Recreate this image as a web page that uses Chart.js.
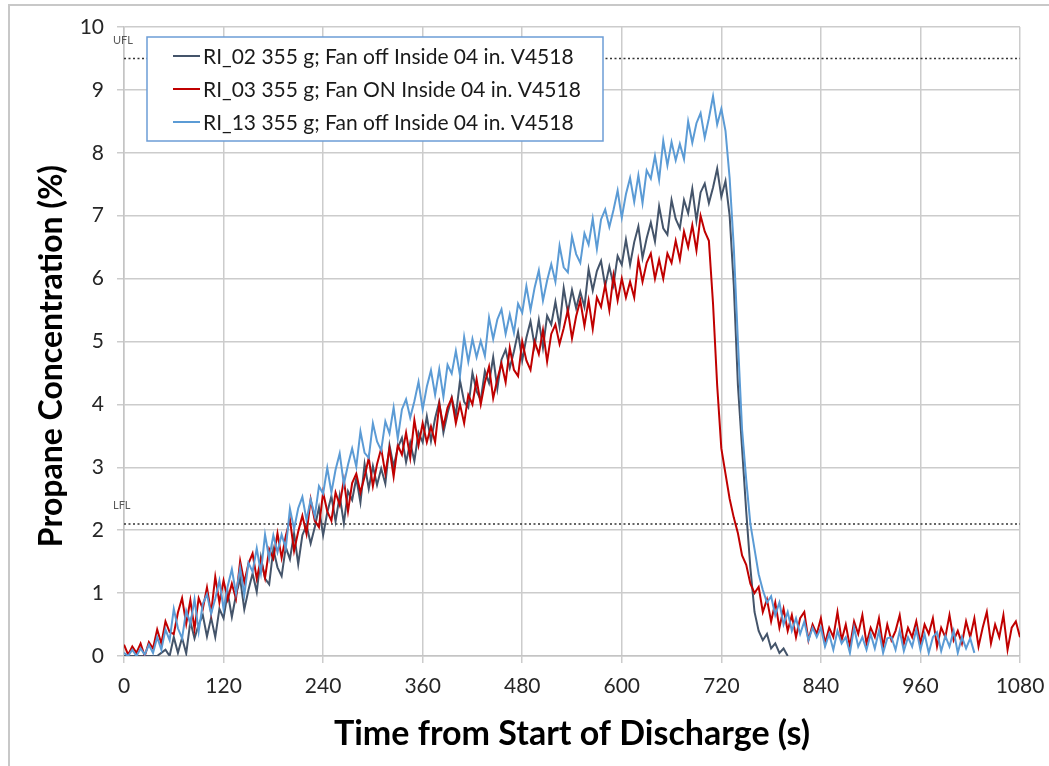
<!DOCTYPE html>
<html><head><meta charset="utf-8">
<script src="https://cdn.jsdelivr.net/npm/chart.js@4.4.1/dist/chart.umd.min.js"></script>
<style>
html,body{margin:0;padding:0;background:#fff;}
#wrap{position:relative;width:1049px;height:766px;overflow:hidden;}
#frame{position:absolute;left:8px;top:4px;width:1100px;height:800px;border-left:2px solid #c8c8c8;border-top:2px solid #c8c8c8;pointer-events:none;}
canvas{position:absolute;left:0;top:0;}
</style></head><body>
<div id="wrap"><canvas id="c" width="1049" height="766"></canvas><div id="frame"></div></div>
<script>
// ---- data ----
const sampleStep = 5; // seconds between samples
const seriesLabels = [
  'RI_02 355 g; Fan off Inside 04 in. V4518',
  'RI_03 355 g; Fan ON Inside 04 in. V4518',
  'RI_13 355 g; Fan off Inside 04 in. V4518'
];
const ri02 = [
  0,0,0,0,0,0,0,0,0,0.05,0.1,0.0,
  0.3,0.05,0.29,0.04,0.55,0.28,0.5,0.65,0.31,0.61,0.3,0.75,
  0.6,1.01,0.62,0.97,1.23,0.74,1.05,1.31,1.02,1.57,1.23,1.14,
  1.7,1.41,1.27,1.73,1.54,1.95,1.46,1.92,2.08,1.79,2.05,2.36,
  1.92,2.28,2.54,2.14,2.55,2.11,2.62,2.48,2.83,2.44,3.05,2.66,
  3.02,2.72,2.98,2.74,3.35,3.01,3.31,3.47,3.08,3.39,3.1,3.55,
  3.4,3.81,3.42,3.78,4.04,3.55,3.86,4.11,3.82,4.38,4.04,3.95,
  4.5,4.21,4.07,4.53,4.34,4.75,4.25,4.71,4.87,4.58,4.84,5.15,
  4.7,5.06,5.32,4.93,5.34,4.9,5.41,5.27,5.63,5.24,5.85,5.46,
  5.82,5.53,5.79,5.55,6.15,5.81,6.12,6.28,5.88,6.19,5.9,6.36,
  6.22,6.62,6.22,6.58,6.83,6.33,6.64,6.89,6.59,7.15,6.8,6.7,
  7.25,6.95,6.8,7.25,7.04,7.43,6.92,7.37,7.51,7.2,7.45,7.75,
  7.3,7.55,7.0,5.9,4.3,3.3,2.3,1.4,0.7,0.4,0.25,0.35,
  0.12,0.2,0.05,0.12,0.0
];
const ri03 = [
  0.18,0.02,0.15,0.05,0.2,0.0,0.22,0.12,0.42,0.2,0.55,0.38,
  0.35,0.69,0.92,0.51,0.89,0.43,0.92,0.75,1.09,0.68,1.26,0.85,
  1.2,0.9,1.15,0.91,1.51,1.17,1.47,1.63,1.23,1.54,1.24,1.7,
  1.55,1.95,1.56,1.91,2.17,1.67,1.98,2.23,1.94,2.49,2.15,2.05,
  2.6,2.3,2.15,2.6,2.4,2.8,2.3,2.75,2.9,2.6,2.85,3.15,
  2.7,3.05,3.3,2.9,3.3,2.85,3.35,3.2,3.55,3.15,3.75,3.35,
  3.7,3.4,3.65,3.4,4.0,3.65,3.95,4.1,3.7,4.0,3.7,4.15,
  4.0,4.4,4.0,4.35,4.6,4.1,4.4,4.65,4.35,4.9,4.55,4.45,
  5.0,4.7,4.55,5.0,4.8,5.18,4.68,5.12,5.27,4.96,5.21,5.5,
  5.05,5.4,5.65,5.25,5.65,5.2,5.7,5.55,5.9,5.5,6.05,5.65,
  6.0,5.7,5.95,5.7,6.3,5.95,6.25,6.4,6.0,6.3,6.0,6.4,
  6.25,6.6,6.3,6.75,6.5,6.85,6.45,7.0,6.75,6.6,5.6,4.3,
  3.3,2.9,2.5,2.2,1.95,1.6,1.45,1.15,1.0,1.1,0.7,0.9,
  0.55,0.85,0.45,0.75,0.4,0.65,0.3,0.6,0.7,0.25,0.5,0.35,
  0.6,0.2,0.45,0.3,0.7,0.25,0.5,0.15,0.55,0.35,0.65,0.2,
  0.45,0.3,0.6,0.15,0.5,0.25,0.4,0.65,0.2,0.45,0.3,0.55,
  0.2,0.5,0.35,0.6,0.15,0.45,0.3,0.65,0.25,0.4,0.2,0.55,
  0.3,0.6,0.15,0.45,0.7,0.2,0.5,0.3,0.65,0.1,0.45,0.55,
  0.3
];
const ri13 = [
  0.05,0.0,0.1,0.0,0.12,0.02,0.18,0.05,0.3,0.1,0.42,0.25,
  0.75,0.44,0.28,0.72,0.51,0.9,0.39,0.83,0.98,0.67,0.91,1.2,
  0.75,1.11,1.38,0.99,1.4,0.97,1.48,1.34,1.71,1.32,1.93,1.55,
  1.92,1.65,1.93,1.71,2.34,2.02,2.35,2.53,2.16,2.49,2.22,2.7,
  2.58,2.99,2.6,2.96,3.22,2.73,3.04,3.3,3.01,3.57,3.23,3.15,
  3.7,3.41,3.27,3.73,3.54,3.95,3.46,3.92,4.08,3.79,4.05,4.36,
  3.92,4.28,4.54,4.15,4.56,4.12,4.63,4.49,4.85,4.46,5.07,4.68,
  5.04,4.75,5.01,4.77,5.38,5.04,5.35,5.51,5.12,5.43,5.14,5.6,
  5.46,5.88,5.5,5.86,6.13,5.65,5.97,6.23,5.95,6.52,6.18,6.1,
  6.67,6.39,6.25,6.72,6.54,6.95,6.47,6.94,7.1,6.82,7.09,7.4,
  6.97,7.34,7.6,7.22,7.64,7.2,7.72,7.59,7.95,7.57,8.19,7.8,
  8.17,7.88,8.14,7.9,8.5,8.16,8.47,8.63,8.24,8.55,8.9,8.45,
  8.7,8.35,7.6,6.5,5.0,3.6,2.8,2.1,1.7,1.3,1.05,0.85,
  0.95,0.65,0.85,0.5,0.7,0.4,0.6,0.35,0.55,0.25,0.45,0.3,
  0.45,0.15,0.35,0.1,0.4,0.2,0.3,0.05,0.45,0.15,0.3,0.1,
  0.35,0.12,0.4,0.05,0.28,0.3,0.1,0.4,0.08,0.3,0.15,0.42,
  0.1,0.35,0.05,0.3,0.38,0.08,0.32,0.15,0.4,0.05,0.3,0.12,
  0.28,0.05
];
const limitLabels = ['UFL', 'LFL'];
const limitValues = [9.5, 2.1];
const xTicks = [0,120,240,360,480,600,720,840,960,1080];
const yTicks = [0,1,2,3,4,5,6,7,8,9,10];
const xTitle = 'Time from Start of Discharge (s)';
const yTitle = 'Propane Concentration (%)';

// ---- styles ----
const seriesColors = ['#44546A', '#C00000', '#5B9BD5'];
const FONT = 'Lato';

function toPoints(vals){ return vals.map((v,i)=>({x:i*sampleStep, y:v})); }

const seriesData = [ri02, ri03, ri13];
const datasets = seriesData.map((vals,i)=>({
  label: seriesLabels[i],
  data: toPoints(vals),
  borderColor: seriesColors[i],
  backgroundColor: seriesColors[i],
  borderWidth: 2,
  pointRadius: 0,
  tension: 0,
  order: 3 - i
}));
limitValues.forEach((v,i)=>{
  datasets.push({
    label: limitLabels[i],
    data: [{x:xTicks[0], y:v},{x:xTicks[xTicks.length-1], y:v}],
    borderColor: '#333333',
    borderWidth: 1.5,
    borderDash: [2,2.5],
    pointRadius: 0,
    order: 10
  });
});

const overlayPlugin = {
  id: 'overlay',
  afterDraw(chart){
    const ctx = chart.ctx;
    const ys = chart.scales.y;
    ctx.save();
    // y-axis title
    ctx.save();
    ctx.translate(52, 356);
    ctx.rotate(-Math.PI/2);
    ctx.font = 'bold 32px ' + FONT;
    ctx.fillStyle = '#000';
    ctx.textAlign = 'center';
    ctx.textBaseline = 'middle';
    ctx.fillText(yTitle, 0, 0);
    ctx.restore();
    // limit labels
    ctx.font = '11px ' + FONT;
    ctx.fillStyle = '#595959';
    ctx.textAlign = 'left';
    ctx.textBaseline = 'middle';
    limitValues.forEach((v,i)=>{
      ctx.fillText(limitLabels[i], 113, ys.getPixelForValue(v) - 18);
    });
    // legend
    const bx = 147, by = 37, bw = 456, bh = 104;
    ctx.fillStyle = '#ffffff';
    ctx.fillRect(bx, by, bw, bh);
    ctx.strokeStyle = '#6C9DD6';
    ctx.lineWidth = 1.5;
    ctx.strokeRect(bx, by, bw, bh);
    ctx.font = '21px ' + FONT;
    ctx.fillStyle = '#1a1a1a';
    const rowY = [56, 89, 122];
    seriesLabels.forEach((lab,i)=>{
      ctx.strokeStyle = seriesColors[i];
      ctx.lineWidth = 2;
      ctx.beginPath();
      ctx.moveTo(173, rowY[i]);
      ctx.lineTo(200, rowY[i]);
      ctx.stroke();
      ctx.fillText(lab, 203, rowY[i] + 1);
    });
    ctx.restore();
  }
};

new Chart(document.getElementById('c'), {
  type: 'line',
  data: { datasets },
  options: {
    responsive: false,
    animation: false,
    layout: { padding: { left: 0, top: 27, right: 29, bottom: 0 } },
    plugins: { legend: { display: false }, tooltip: { enabled: false } },
    scales: {
      x: {
        type: 'linear', min: 0, max: 1080,
        afterBuildTicks: s => { s.ticks = xTicks.map(v=>({value:v})); },
        afterFit: s => { s.height = 110; s.paddingLeft = 0; s.paddingRight = 0; },
        grid: { color: '#cccccc', lineWidth: 1.5, tickLength: 7 },
        border: { color: '#c4c4c4', width: 1.5 },
        ticks: { font: { family: FONT, size: 21 }, color: '#262626', padding: 11, maxRotation: 0, callback: v => String(v) },
        title: { display: true, text: xTitle, font: { family: FONT, size: 34, weight: 'bold' }, color: '#000', padding: { top: 0, bottom: 12 } }
      },
      y: {
        type: 'linear', min: 0, max: 10,
        afterBuildTicks: s => { s.ticks = yTicks.map(v=>({value:v})); },
        afterFit: s => { s.width = 124; s.paddingTop = 0; s.paddingBottom = 0; },
        grid: { color: '#cccccc', lineWidth: 1.5, tickLength: 7 },
        border: { color: '#c4c4c4', width: 1.5 },
        ticks: { font: { family: FONT, size: 21 }, color: '#262626', padding: 13, callback: v => String(v) },
        title: { display: false }
      }
    }
  },
  plugins: [overlayPlugin]
});
</script>
</body></html>
